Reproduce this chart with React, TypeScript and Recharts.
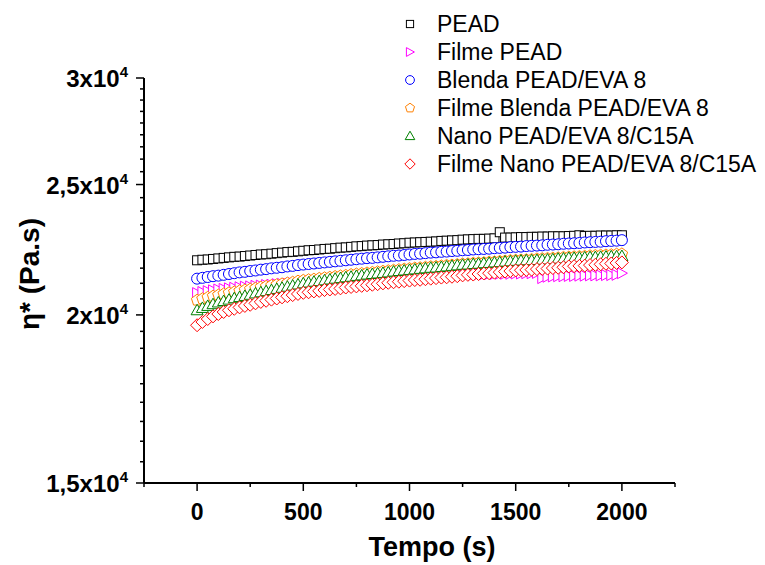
import { ScatterChart, Scatter, XAxis, YAxis, Label } from 'recharts'

// tempo (s)
const TIMES = [
  0, 25, 50, 75, 100, 125, 150, 175, 200, 225, 250, 275, 300, 325, 350, 375, 400, 425, 450, 475,
  500, 525, 550, 575, 600, 625, 650, 675, 700, 725, 750, 775, 800, 825, 850, 875, 900, 925, 950, 975,
  1000, 1025, 1050, 1075, 1100, 1125, 1150, 1175, 1200, 1225, 1250, 1275, 1300, 1325, 1350, 1375, 1400,
  1425, 1450, 1475, 1500, 1525, 1550, 1575, 1600, 1625, 1650, 1675, 1700, 1725, 1750, 1775, 1800, 1825,
  1850, 1875, 1900, 1925, 1950, 1975, 2000,
]

// eta* (Pa.s)
const PEAD = [
  21960, 21980, 21990, 22010, 22030, 22050, 22070, 22090, 22100, 22120, 22140,
  22160, 22180, 22190, 22210, 22230, 22250, 22270, 22280, 22300, 22320,
  22340, 22350, 22370, 22390, 22400, 22420, 22440, 22450, 22470, 22490,
  22500, 22520, 22530, 22540, 22560, 22570, 22580, 22600, 22610, 22630,
  22640, 22650, 22660, 22670, 22680, 22700, 22710, 22720, 22730, 22750,
  22760, 22770, 22780, 22780, 22790, 22800, 23040, 22830, 22830, 22840,
  22850, 22850, 22860, 22860, 22870, 22870, 22880, 22880, 22880, 22890,
  22900, 22920, 22890, 22900, 22900, 22910, 22910, 22910, 22920, 22920,
]
const FILME_PEAD = [
  20760, 20800, 20830, 20860, 20890, 20910, 20930, 20950, 20970, 20990, 21000,
  21020, 21030, 21050, 21060, 21080, 21090, 21100, 21120, 21130, 21150,
  21160, 21170, 21180, 21190, 21200, 21210, 21220, 21240, 21250, 21260,
  21270, 21270, 21280, 21290, 21300, 21310, 21320, 21330, 21340, 21350,
  21360, 21360, 21370, 21380, 21390, 21390, 21400, 21410, 21410, 21420,
  21430, 21430, 21440, 21440, 21450, 21450, 21460, 21460, 21460, 21470,
  21470, 21480, 21480, 21490, 21300, 21350, 21360, 21370, 21370, 21380,
  21380, 21390, 21390, 21400, 21400, 21400, 21410, 21410, 21420, 21480,
]
const BLENDA = [
  21280, 21310, 21340, 21370, 21390, 21420, 21450, 21480, 21510, 21530, 21560,
  21580, 21610, 21630, 21660, 21680, 21700, 21730, 21750, 21780, 21800,
  21820, 21840, 21860, 21880, 21900, 21920, 21940, 21960, 21980, 22000,
  22020, 22040, 22050, 22070, 22090, 22110, 22130, 22140, 22160, 22180,
  22200, 22210, 22230, 22250, 22260, 22280, 22290, 22310, 22320, 22340,
  22350, 22370, 22380, 22390, 22400, 22420, 22430, 22440, 22460, 22470,
  22480, 22500, 22510, 22520, 22530, 22550, 22560, 22570, 22590, 22600,
  22610, 22620, 22640, 22650, 22660, 22670, 22690, 22700, 22710, 22730,
]
const FILME_BLENDA = [
  20510, 20560, 20610, 20650, 20690, 20730, 20770, 20800, 20840, 20870, 20900,
  20930, 20970, 21000, 21030, 21060, 21090, 21120, 21150, 21190, 21220,
  21240, 21260, 21290, 21310, 21330, 21360, 21380, 21400, 21430, 21450,
  21470, 21490, 21510, 21530, 21550, 21570, 21590, 21610, 21630, 21650,
  21670, 21680, 21700, 21720, 21730, 21750, 21770, 21780, 21800, 21820,
  21830, 21850, 21860, 21870, 21890, 21900, 21920, 21930, 21950, 21960,
  21970, 21980, 21990, 22010, 22020, 22030, 22040, 22050, 22070, 22080,
  22090, 22100, 22110, 22130, 22140, 22150, 22160, 22170, 22190, 22200,
]
const NANO = [
  20160, 20240, 20310, 20370, 20430, 20480, 20530, 20580, 20620, 20660, 20700,
  20750, 20790, 20830, 20870, 20910, 20950, 20990, 21030, 21070, 21110,
  21140, 21170, 21190, 21220, 21250, 21280, 21300, 21330, 21350, 21380,
  21400, 21430, 21450, 21470, 21490, 21510, 21540, 21560, 21580, 21600,
  21620, 21640, 21660, 21680, 21690, 21710, 21730, 21750, 21770, 21790,
  21800, 21820, 21830, 21850, 21860, 21880, 21890, 21910, 21920, 21940,
  21950, 21960, 21960, 21970, 21980, 21990, 22000, 22020, 22030, 22050,
  22050, 22060, 22070, 22080, 22080, 22090, 22100, 22110, 22110, 22120,
]
const FILME_NANO = [
  19650, 19760, 19860, 19950, 20030, 20100, 20160, 20210, 20260, 20310, 20350,
  20400, 20450, 20490, 20530, 20570, 20610, 20650, 20690, 20730, 20770,
  20790, 20820, 20840, 20870, 20890, 20910, 20930, 20960, 20980, 21000,
  21020, 21040, 21060, 21080, 21110, 21130, 21150, 21170, 21190, 21210,
  21230, 21240, 21260, 21280, 21300, 21320, 21330, 21350, 21370, 21400,
  21420, 21430, 21450, 21470, 21480, 21500, 21520, 21540, 21560, 21580,
  21590, 21600, 21610, 21630, 21640, 21650, 21670, 21680, 21700, 21730,
  21740, 21750, 21760, 21780, 21790, 21810, 21830, 21840, 21860, 21880,
]

const X_MAJOR = [0, 500, 1000, 1500, 2000]
const X_TICKS = [-250, 0, 250, 500, 750, 1000, 1250, 1500, 1750, 2000, 2250]
const Y_MAJOR = [15000, 20000, 25000, 30000]
const Y_LABELS = ['1,5', '2', '2,5', '3']

const FONT = '"Liberation Sans", Arial, sans-serif'

// 8 minor ticks between each pair of majors
const Y_TICKS: number[] = []
Y_MAJOR.forEach((m, i) => {
  Y_TICKS.push(m)
  if (i < Y_MAJOR.length - 1) {
    const step = (Y_MAJOR[i + 1] - m) / 9
    for (let k = 1; k < 9; k++) Y_TICKS.push(m + k * step)
  }
})

type Shape = 'square' | 'tri-right' | 'circle' | 'pentagon' | 'tri-up' | 'diamond'

function Marker({ kind, cx, cy, color, s = 1 }: { kind: Shape; cx: number; cy: number; color: string; s?: number }) {
  const common = { fill: '#fff', stroke: color, strokeWidth: 1 }
  if (kind === 'square') return <rect x={cx - 4.5 * s} y={cy - 4.5 * s} width={9 * s} height={9 * s} {...common} />
  if (kind === 'circle') return <circle cx={cx} cy={cy} r={5.5 * s} {...common} />
  let pts: number[][] = []
  if (kind === 'tri-right') pts = [[-4.5, -5.5], [5.5, 0], [-4.5, 5.5]]
  if (kind === 'tri-up') pts = [[0, -6], [6, 4.5], [-6, 4.5]]
  if (kind === 'diamond') pts = [[0, -6.5], [6.5, 0], [0, 6.5], [-6.5, 0]]
  if (kind === 'pentagon') {
    for (let k = 0; k < 5; k++) {
      const a = (-90 + 72 * k) * Math.PI / 180
      pts.push([6 * Math.cos(a), 6 * Math.sin(a)])
    }
  }
  const d = pts.map(([px, py]) => `${cx + px * s},${cy + py * s}`).join(' ')
  return <polygon points={d} {...common} />
}

const SERIES: { name: string; values: number[]; color: string; kind: Shape }[] = [
  { name: 'PEAD', values: PEAD, color: '#000000', kind: 'square' },
  { name: 'Filme PEAD', values: FILME_PEAD, color: '#ff00ff', kind: 'tri-right' },
  { name: 'Blenda PEAD/EVA 8', values: BLENDA, color: '#0000ff', kind: 'circle' },
  { name: 'Filme Blenda PEAD/EVA 8', values: FILME_BLENDA, color: '#ff8000', kind: 'pentagon' },
  { name: 'Nano PEAD/EVA 8/C15A', values: NANO, color: '#008000', kind: 'tri-up' },
  { name: 'Filme Nano PEAD/EVA 8/C15A', values: FILME_NANO, color: '#ff0000', kind: 'diamond' },
]

function XTick({ x, y, payload }: any) {
  const v = payload.value
  const major = X_MAJOR.includes(v)
  return (
    <g>
      <line x1={x} x2={x} y1={y} y2={y + (major ? 8 : 4)} stroke="#000" strokeWidth={1.5} />
      {major && (
        <text x={x} y={y + 37} textAnchor="middle" fontFamily={FONT} fontWeight="bold" fontSize={23} fill="#000">
          {v}
        </text>
      )}
    </g>
  )
}

function YTick({ x, y, payload }: any) {
  const v = payload.value
  const idx = Y_MAJOR.indexOf(v)
  const major = idx >= 0
  return (
    <g>
      <line x1={x - (major ? 8 : 4)} x2={x} y1={y} y2={y} stroke="#000" strokeWidth={1.5} />
      {major && (
        <text x={x - 16} y={y + 9} textAnchor="end" fontFamily={FONT} fontWeight="bold" fontSize={24} fill="#000">
          {Y_LABELS[idx]}x10
          <tspan dy={-10} fontSize={15}>4</tspan>
        </text>
      )}
    </g>
  )
}

export default function App() {
  return (
    <div style={{ position: 'absolute', left: 0, top: 0, width: 765, height: 565, background: '#fff' }}>
      <ScatterChart width={765} height={565} margin={{ top: 78, right: 90, bottom: 0, left: 0 }}>
        <XAxis
          type="number"
          dataKey="t"
          domain={[-250, 2250]}
          ticks={X_TICKS}
          interval={0}
          allowDataOverflow
          height={82}
          tickSize={0}
          tickMargin={0}
          tickLine={false}
          axisLine={{ stroke: '#000', strokeWidth: 2 }}
          tick={<XTick />}
        >
          <Label
            content={() => (
              <text x={432} y={556} textAnchor="middle" fontFamily={FONT} fontWeight="bold" fontSize={27} fill="#000">
                Tempo (s)
              </text>
            )}
          />
        </XAxis>
        <YAxis
          type="number"
          dataKey="v"
          scale="log"
          domain={[15000, 30000]}
          ticks={Y_TICKS}
          interval={0}
          allowDataOverflow
          width={144}
          tickSize={0}
          tickMargin={0}
          tickLine={false}
          axisLine={{ stroke: '#000', strokeWidth: 2 }}
          tick={<YTick />}
        >
          <Label
            content={() => (
              <text
                x={39}
                y={274}
                transform="rotate(-90 39 274)"
                textAnchor="middle"
                fontFamily={FONT}
                fontWeight="bold"
                fontSize={28}
                fill="#000"
              >
                η* (Pa.s)
              </text>
            )}
          />
        </YAxis>
        {SERIES.map((s) => (
          <Scatter
            key={s.name}
            name={s.name}
            data={TIMES.map((t, i) => ({ t, v: s.values[i] }))}
            isAnimationActive={false}
            shape={(p: any) => <Marker kind={s.kind} cx={p.cx} cy={p.cy} color={s.color} />}
          />
        ))}
      </ScatterChart>
      <div style={{ position: 'absolute', left: 398, top: 10 }}>
        {SERIES.map((s) => (
          <div key={s.name} style={{ display: 'flex', alignItems: 'center', height: 28 }}>
            <svg width={24} height={20} style={{ display: 'block' }}>
              <Marker kind={s.kind} cx={12} cy={10} color={s.color} s={0.8} />
            </svg>
            <span style={{ marginLeft: 15, fontFamily: FONT, fontSize: 23, color: '#000', whiteSpace: 'nowrap' }}>
              {s.name}
            </span>
          </div>
        ))}
      </div>
    </div>
  )
}
